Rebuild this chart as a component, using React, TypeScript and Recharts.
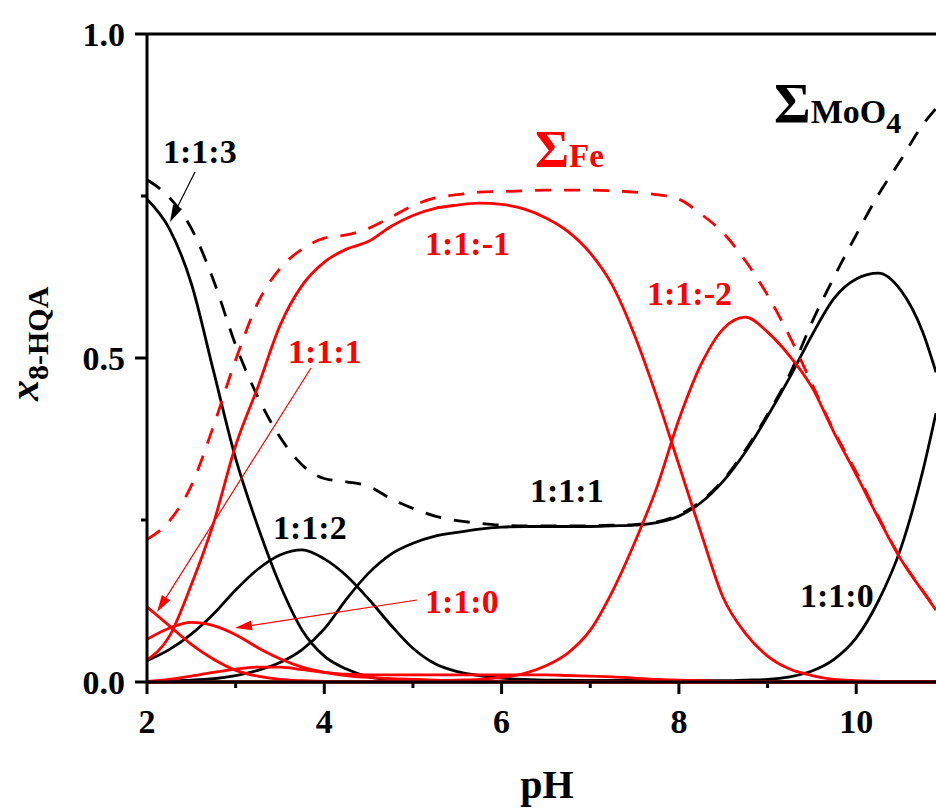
import React from 'react';
import { LineChart, Line, XAxis, YAxis, ReferenceLine } from 'recharts';

// pH grid shared by every species curve
const PH = [
  2, 2.25, 2.5, 2.75, 3, 3.25, 3.5, 3.75, 4, 4.25, 4.5, 4.75, 5, 5.25, 5.5, 5.75, 6, 6.25, 6.5,
  6.75, 7, 7.25, 7.5, 7.75, 8, 8.25, 8.5, 8.75, 9, 9.25, 9.5, 9.75, 10, 10.25, 10.5, 10.75, 10.9,
];

// MoO4 species (black)
const MO_113 = [
  0.745, 0.7, 0.615, 0.48, 0.345, 0.24, 0.15, 0.08, 0.04, 0.02, 0.008, 0.004, 0.002, 0.001, 0.001, 0, 0, 0, 0,
  0, 0, 0, 0, 0, 0, 0, 0, 0, 0, 0, 0, 0, 0, 0, 0, 0, 0,
];
const MO_112 = [
  0.033, 0.05, 0.074, 0.105, 0.142, 0.174, 0.196, 0.204, 0.19, 0.164, 0.128, 0.088, 0.052, 0.028, 0.016, 0.01, 0.006, 0.004, 0.003,
  0.003, 0.002, 0.002, 0.002, 0.002, 0.001, 0.001, 0.001, 0, 0, 0, 0, 0, 0, 0, 0, 0, 0,
];
const MO_111 = [
  0, 0.001, 0.003, 0.005, 0.01, 0.018, 0.03, 0.05, 0.082, 0.128, 0.168, 0.197, 0.214, 0.225, 0.231, 0.236, 0.239, 0.24, 0.24,
  0.24, 0.24, 0.241, 0.242, 0.246, 0.256, 0.277, 0.31, 0.355, 0.41, 0.47, 0.535, 0.592, 0.622, 0.631, 0.605, 0.54, 0.478,
];
const MO_110 = [
  0, 0, 0, 0, 0, 0, 0, 0, 0, 0, 0, 0, 0, 0, 0, 0, 0.001, 0.001, 0.001,
  0.002, 0.002, 0.002, 0.002, 0.002, 0.002, 0.002, 0.002, 0.003, 0.004, 0.008, 0.017, 0.035, 0.068, 0.125, 0.205, 0.325, 0.415,
];
const MO_SUM = [
  0.775, 0.748, 0.7, 0.62, 0.52, 0.44, 0.378, 0.335, 0.314, 0.309, 0.302, 0.283, 0.268, 0.256, 0.249, 0.245, 0.242, 0.241, 0.241,
  0.241, 0.241, 0.242, 0.243, 0.247, 0.258, 0.279, 0.312, 0.358, 0.413, 0.475, 0.555, 0.625, 0.69, 0.752, 0.805, 0.86, 0.885,
];

// Fe species (red)
const FE_11M1 = [
  0.034, 0.07, 0.15, 0.245, 0.365, 0.455, 0.55, 0.612, 0.648, 0.668, 0.68, 0.703, 0.72, 0.731, 0.736, 0.739, 0.737, 0.73, 0.716,
  0.695, 0.662, 0.612, 0.535, 0.44, 0.335, 0.23, 0.13, 0.075, 0.04, 0.02, 0.01, 0.004, 0.002, 0.001, 0, 0, 0,
];
const FE_11M2 = [
  0, 0, 0, 0, 0, 0, 0, 0, 0, 0, 0.001, 0.001, 0.002, 0.002, 0.003, 0.004, 0.007, 0.013, 0.025,
  0.045, 0.08, 0.14, 0.215, 0.3, 0.405, 0.49, 0.545, 0.563, 0.54, 0.503, 0.455, 0.385, 0.32, 0.253, 0.19, 0.14, 0.111,
];
const FE_111 = [
  0.116, 0.087, 0.058, 0.035, 0.018, 0.009, 0.004, 0.002, 0.001, 0, 0, 0, 0, 0, 0, 0, 0, 0, 0,
  0, 0, 0, 0, 0, 0, 0, 0, 0, 0, 0, 0, 0, 0, 0, 0, 0, 0,
];
const FE_110 = [
  0.066, 0.083, 0.092, 0.087, 0.073, 0.053, 0.036, 0.023, 0.015, 0.01, 0.007, 0.005, 0.004, 0.003, 0.002, 0.002, 0.001, 0.001, 0,
  0, 0, 0, 0, 0, 0, 0, 0, 0, 0, 0, 0, 0, 0, 0, 0, 0, 0,
];
const FE_MINOR = [
  0.001, 0.004, 0.009, 0.015, 0.02, 0.023, 0.023, 0.019, 0.015, 0.012, 0.011, 0.011, 0.011, 0.011, 0.011, 0.011, 0.011, 0.011, 0.011,
  0.01, 0.009, 0.008, 0.006, 0.004, 0.003, 0.002, 0.001, 0, 0, 0, 0, 0, 0, 0, 0, 0, 0,
];
const FE_SUM = [
  0.22, 0.248, 0.303, 0.395, 0.497, 0.585, 0.638, 0.668, 0.685, 0.69, 0.7, 0.717, 0.735, 0.747, 0.752, 0.756, 0.757, 0.758, 0.759,
  0.759, 0.759, 0.758, 0.756, 0.752, 0.745, 0.722, 0.693, 0.65, 0.597, 0.533, 0.46, 0.387, 0.324, 0.255, 0.191, 0.141, 0.112,
];

const X_TICKS = [2, 3, 4, 5, 6, 7, 8, 9, 10];
const Y_TICKS = [0, 0.25, 0.5, 0.75, 1];
const Y_LABELS: Record<string, string> = { '0': '0.0', '0.5': '0.5', '1': '1.0' };

const data = PH.map((ph, i) => ({
  ph,
  mo113: MO_113[i],
  mo112: MO_112[i],
  mo111: MO_111[i],
  mo110: MO_110[i],
  moSum: MO_SUM[i],
  fe11m1: FE_11M1[i],
  fe11m2: FE_11M2[i],
  fe111: FE_111[i],
  fe110: FE_110[i],
  feMinor: FE_MINOR[i],
  feSum: FE_SUM[i],
}));

const RED = '#ff0000';
const FONT = '"Liberation Serif", "Times New Roman", serif';
const DASH = '16 13';
const LW = 2.8;

const XTick = (props: any) => {
  const { x, y, payload } = props;
  const major = payload.value % 2 === 0;
  return (
    <g>
      <line x1={x} y1={y} x2={x} y2={y + (major ? 12 : 6)} stroke="#000" strokeWidth={3} />
      {major && (
        <text x={x} y={y + 51} textAnchor="middle" fontFamily={FONT} fontWeight="bold" fontSize={34} fill="#000">
          {payload.value}
        </text>
      )}
    </g>
  );
};

const YTick = (props: any) => {
  const { x, y, payload } = props;
  const label = Y_LABELS[String(payload.value)];
  return (
    <g>
      <line x1={x - (label ? 12 : 6)} y1={y} x2={x} y2={y} stroke="#000" strokeWidth={3} />
      {label && (
        <text x={x - 22} y={y + 12} textAnchor="end" fontFamily={FONT} fontWeight="bold" fontSize={34} fill="#000">
          {label}
        </text>
      )}
    </g>
  );
};

const Arrow = ({ x1, y1, x2, y2, color }: { x1: number; y1: number; x2: number; y2: number; color: string }) => {
  const a = Math.atan2(y2 - y1, x2 - x1);
  const len = 17;
  const hw = 5;
  const bx = x2 - len * Math.cos(a);
  const by = y2 - len * Math.sin(a);
  const px = -Math.sin(a) * hw;
  const py = Math.cos(a) * hw;
  return (
    <g>
      <line x1={x1} y1={y1} x2={bx} y2={by} stroke={color} strokeWidth={1.2} />
      <polygon points={`${x2},${y2} ${bx + px},${by + py} ${bx - px},${by - py}`} fill={color} />
    </g>
  );
};

const lbl = { fontFamily: FONT, fontWeight: 'bold' as const, fontSize: 34 };

export default function App() {
  return (
    <div style={{ position: 'absolute', left: 0, top: 0, width: 936, height: 808, background: '#fff' }}>
      <LineChart width={936} height={808} data={data} margin={{ top: 34, right: 0, bottom: 0, left: 0 }}>
        <XAxis
          dataKey="ph"
          type="number"
          domain={[2, 10.9]}
          ticks={X_TICKS}
          interval={0}
          height={126}
          tickSize={0}
          tickMargin={0}
          tickLine={false}
          axisLine={{ stroke: '#000', strokeWidth: 3 }}
          tick={<XTick />}
          allowDataOverflow
        />
        <YAxis
          type="number"
          domain={[0, 1]}
          ticks={Y_TICKS}
          interval={0}
          width={147}
          tickSize={0}
          tickMargin={0}
          tickLine={false}
          axisLine={{ stroke: '#000', strokeWidth: 3 }}
          tick={<YTick />}
        />
        <ReferenceLine y={1} stroke="#000" strokeWidth={3} />
        <Line dataKey="mo113" type="monotone" stroke="#000" strokeWidth={LW} dot={false} isAnimationActive={false} />
        <Line dataKey="mo112" type="monotone" stroke="#000" strokeWidth={LW} dot={false} isAnimationActive={false} />
        <Line dataKey="mo111" type="monotone" stroke="#000" strokeWidth={LW} dot={false} isAnimationActive={false} />
        <Line dataKey="mo110" type="monotone" stroke="#000" strokeWidth={LW} dot={false} isAnimationActive={false} />
        <Line dataKey="moSum" type="monotone" stroke="#000" strokeWidth={LW} strokeDasharray={DASH} dot={false} isAnimationActive={false} />
        <Line dataKey="fe11m1" type="monotone" stroke={RED} strokeWidth={LW} dot={false} isAnimationActive={false} />
        <Line dataKey="fe11m2" type="monotone" stroke={RED} strokeWidth={LW} dot={false} isAnimationActive={false} />
        <Line dataKey="fe111" type="monotone" stroke={RED} strokeWidth={LW} dot={false} isAnimationActive={false} />
        <Line dataKey="fe110" type="monotone" stroke={RED} strokeWidth={LW} dot={false} isAnimationActive={false} />
        <Line dataKey="feMinor" type="monotone" stroke={RED} strokeWidth={LW} dot={false} isAnimationActive={false} />
        <Line dataKey="feSum" type="monotone" stroke={RED} strokeWidth={LW} strokeDasharray={DASH} dot={false} isAnimationActive={false} />
      </LineChart>
      <svg width={936} height={808} style={{ position: 'absolute', left: 0, top: 0, pointerEvents: 'none' }}>
        <text x={163} y={163} fill="#000" {...lbl}>1:1:3</text>
        <text x={425} y={255} fill={RED} {...lbl}>1:1:-1</text>
        <text x={647} y={305} fill={RED} {...lbl}>1:1:-2</text>
        <text x={288} y={363} fill={RED} {...lbl}>1:1:1</text>
        <text x={530} y={502} fill="#000" {...lbl}>1:1:1</text>
        <text x={273} y={539} fill="#000" {...lbl}>1:1:2</text>
        <text x={425} y={613} fill={RED} {...lbl}>1:1:0</text>
        <text x={800} y={607} fill="#000" {...lbl}>1:1:0</text>
        <text x={535} y={167} fill={RED} fontFamily={FONT} fontWeight="bold">
          <tspan fontSize={52}>Σ</tspan>
          <tspan fontSize={33}>Fe</tspan>
        </text>
        <text x={774} y={123} fill="#000" fontFamily={FONT} fontWeight="bold">
          <tspan fontSize={56}>Σ</tspan>
          <tspan fontSize={34}>MoO</tspan>
          <tspan fontSize={30} dy={10}>4</tspan>
        </text>
        <Arrow x1={195} y1={172} x2={170} y2={222} color="#000" />
        <Arrow x1={311} y1={368} x2={157} y2={612} color={RED} />
        <Arrow x1={417} y1={600} x2={235} y2={628} color={RED} />
        <text x={547} y={798} textAnchor="middle" fill="#000" fontFamily={FONT} fontWeight="bold" fontSize={40}>pH</text>
        <text transform="translate(38, 401) rotate(-90)" fill="#000" fontFamily={FONT} fontWeight="bold">
          <tspan fontSize={42} fontStyle="italic">x</tspan>
          <tspan fontSize={30} dy={10}>8-HQA</tspan>
        </text>
      </svg>
    </div>
  );
}
